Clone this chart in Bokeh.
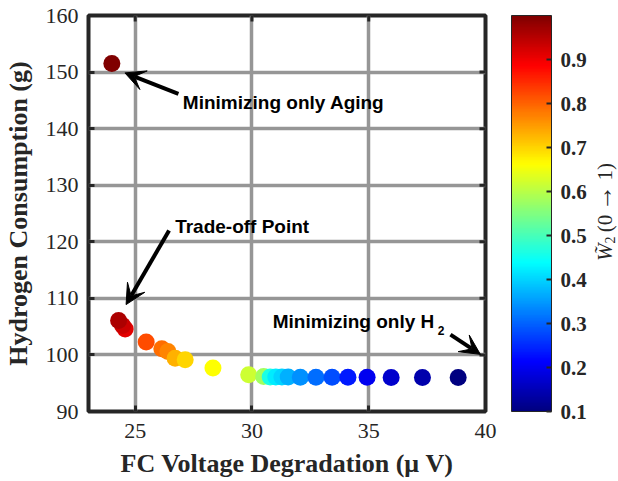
import numpy as np
from bokeh.plotting import figure
from bokeh.models import (ColumnDataSource, LinearColorMapper, ColorBar, FixedTicker,
                          Range1d, Arrow, VeeHead, Div)
from bokeh.layouts import row
from bokeh.core.properties import value
from bokeh.embed import file_html
from bokeh.resources import INLINE

# ---- data (drawing order) ----
voltage_deg = [24.0, 24.57, 24.46, 24.29, 25.47, 26.14, 26.40, 26.71, 27.14, 28.33,
               29.86, 30.50, 30.78, 31.02, 31.28, 31.55, 32.07, 32.74, 33.43, 34.11,
               34.93, 35.96, 37.30, 38.83]
h2_consumption = [151.5, 104.6, 105.2, 106.1, 102.3, 101.1, 100.6, 99.4, 99.15, 97.7,
                  96.5, 96.2, 96.1, 96.1, 96.1, 96.1, 96.05, 96.05, 96.05, 96.05,
                  96.05, 96.0, 96.0, 96.0]
w2 = [1.0, 0.91, 0.93, 0.96, 0.82, 0.79, 0.77, 0.73, 0.70, 0.66,
      0.62, 0.58, 0.46, 0.42, 0.40, 0.37, 0.34, 0.31, 0.28, 0.235,
      0.20, 0.17, 0.14, 0.10]

x_ticks = [25, 30, 35, 40]
y_ticks = [90, 100, 110, 120, 130, 140, 150, 160]
cbar_ticks = [0.1, 0.2, 0.3, 0.4, 0.5, 0.6, 0.7, 0.8, 0.9]

annot_text = ["Minimizing only Aging", "Trade-off Point", "Minimizing only H"]
annot_x = [27.04, 26.71, 30.89]
annot_y = [144.6, 122.74, 105.85]
sub_text = ["2"]
sub_x = [37.95]
sub_y = [104.3]

arrow_x0 = [26.85, 26.45, 38.50]
arrow_y0 = [146.14, 122.0, 103.6]
arrow_x1 = [24.56, 24.61, 39.78]
arrow_y1 = [149.85, 108.9, 100.1]

# jet colormap
t = np.linspace(0, 1, 256)
r = np.clip(1.5 - np.abs(4 * t - 3), 0, 1)
g = np.clip(1.5 - np.abs(4 * t - 2), 0, 1)
b = np.clip(1.5 - np.abs(4 * t - 1), 0, 1)
jet = ["#%02x%02x%02x" % (int(round(rr * 255)), int(round(gg * 255)), int(round(bb * 255)))
       for rr, gg, bb in zip(r, g, b)]
mapper = LinearColorMapper(palette=jet, low=0.1, high=1.0)

p = figure(width=596, height=481, x_range=Range1d(23, 40), y_range=Range1d(90, 160),
           output_backend="svg", toolbar_location=None,
           min_border_left=87, min_border_right=111, min_border_top=15, min_border_bottom=70)
p.background_fill_color = "white"
p.border_fill_color = "white"
p.outline_line_color = "#262626"
p.outline_line_width = 4

serif = "Liberation Serif"
for ax in [p.xaxis[0], p.yaxis[0]]:
    ax.axis_line_color = None
    ax.major_tick_in = 6
    ax.major_tick_out = 0
    ax.major_tick_line_color = "#262626"
    ax.major_tick_line_width = 3
    ax.minor_tick_line_color = None
    ax.major_label_text_font = serif
    ax.major_label_text_font_size = "22px"
    ax.major_label_text_color = "#262626"
    ax.axis_label_text_font = serif
    ax.axis_label_text_font_style = "bold"
    ax.axis_label_text_font_size = "26px"
    ax.axis_label_text_color = "#262626"

p.xaxis.ticker = FixedTicker(ticks=x_ticks)
p.yaxis.ticker = FixedTicker(ticks=y_ticks)
p.xaxis.axis_label = "FC Voltage Degradation (\u03bc V)"
p.yaxis.axis_label = "Hydrogen Consumption (g)"
p.xaxis.major_label_standoff = 12
p.yaxis.major_label_standoff = 10
p.xaxis.axis_label_standoff = 8
p.yaxis.axis_label_standoff = 10

p.xgrid.ticker = FixedTicker(ticks=x_ticks)
p.ygrid.ticker = FixedTicker(ticks=y_ticks)
p.grid.grid_line_color = "#969696"
p.grid.grid_line_width = 3.5

# mirrored (inward) ticks on top and right edges
p.scatter(x=x_ticks, y=[160] * len(x_ticks), marker="dash", angle=np.pi / 2, size=12,
          line_color="#262626", line_width=3)
p.scatter(x=[40] * len(y_ticks), y=y_ticks, marker="dash", size=12,
          line_color="#262626", line_width=3)

src = ColumnDataSource(dict(x=voltage_deg, y=h2_consumption, w=w2))
p.scatter("x", "y", source=src, size=17, line_color=None,
          fill_color={"field": "w", "transform": mapper})

# annotations
p.text(x=annot_x, y=annot_y, text=annot_text, text_font=value("Liberation Sans"),
       text_font_style="bold", text_font_size="19px", text_color="black",
       text_baseline="alphabetic", text_align="left")
p.text(x=sub_x, y=sub_y, text=sub_text, text_font=value("Liberation Sans"),
       text_font_style="bold", text_font_size="12px", text_color="black",
       text_baseline="alphabetic", text_align="left")

for x0, y0, x1, y1 in zip(arrow_x0, arrow_y0, arrow_x1, arrow_y1):
    p.add_layout(Arrow(x_start=x0, y_start=y0, x_end=x1, y_end=y1,
                       line_color="black", line_width=4,
                       end=VeeHead(size=20, fill_color="black", line_color="black", line_width=1)))

cbar = ColorBar(color_mapper=mapper, ticker=FixedTicker(ticks=cbar_ticks),
                width=40, height=396, location=(26, 0), margin=0, padding=0,
                bar_line_color="#262626", bar_line_width=1,
                major_tick_in=5, major_tick_out=0, major_tick_line_color="#262626",
                major_tick_line_width=2, minor_tick_line_color=None,
                major_label_text_font=serif, major_label_text_font_style="bold",
                major_label_text_font_size="21px", major_label_text_color="#262626",
                label_standoff=9, background_fill_alpha=0)
p.add_layout(cbar, "right")

label_html = (
    '<div style="position:absolute; left:-61px; top:196px; width:130px; height:22px; '
    'line-height:22px; text-align:center; transform:rotate(-90deg); white-space:nowrap; '
    "font-family:'Liberation Serif'; font-size:21px; color:#262626;\">"
    '<i>W&#771;</i><span style="font-size:14px; vertical-align:-3px; line-height:0;">2</span>'
    '&#8201;(0&#8201;<span style="font-size:26px; line-height:0;">&#8594;</span>&#8201;1)</div>'
)
cb_title = Div(text=label_html, width=22, height=481,
               styles={"overflow": "visible", "position": "relative"})

layout = row(p, cb_title)
open("out.html", "w").write(file_html(layout, INLINE))
